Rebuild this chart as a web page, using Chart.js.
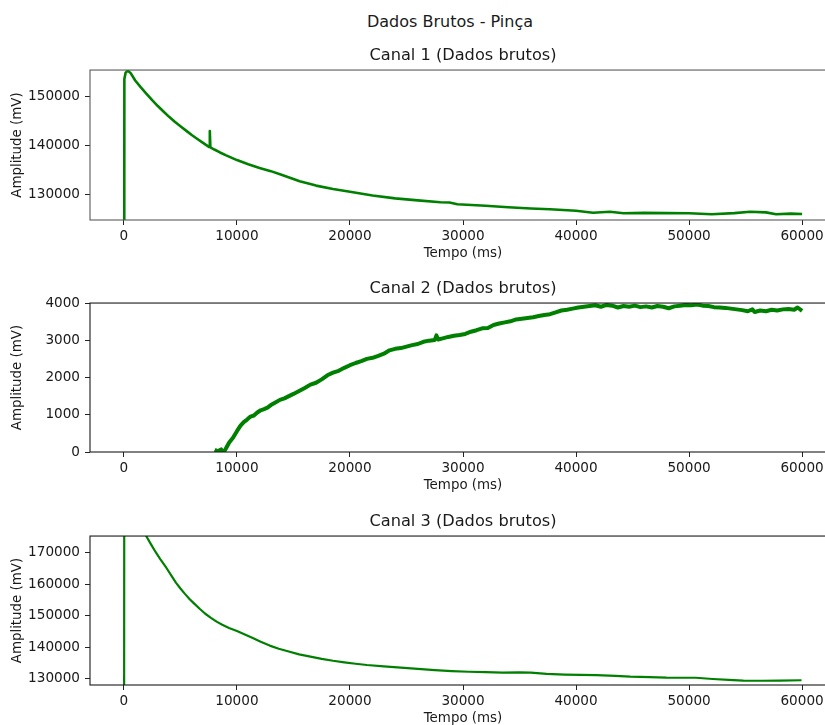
<!DOCTYPE html>
<html>
<head>
<meta charset="utf-8">
<script src="https://cdn.jsdelivr.net/npm/chart.js@4.4.1/dist/chart.umd.min.js"></script>
<style>
  html, body { margin: 0; padding: 0; background: #fff; overflow: hidden; }
  #fig { position: relative; width: 825px; height: 725px; overflow: hidden; background: #fff; }
  #suptitle { position: absolute; left: 0; top: 12px; width: 900px; text-align: center;
              font: 16px "DejaVu Sans"; line-height: 20px; color: #1a1a1a; }
  .panel { position: absolute; left: 0; width: 836px; }
</style>
</head>
<body>
<div id="fig">
  <div id="suptitle">Dados Brutos - Pinça</div>
  <div class="panel" style="top:30px;height:235px"><canvas id="c1"></canvas></div>
  <div class="panel" style="top:263px;height:234px"><canvas id="c2"></canvas></div>
  <div class="panel" style="top:496px;height:234px"><canvas id="c3"></canvas></div>
</div>
<script>
// Shared time axis ticks (ms)
const xTicks = [0, 10000, 20000, 30000, 40000, 50000, 60000];

// Canal 1
const tempo1 = [0, 40, 150, 350, 600, 1000, 1500, 2000, 2500, 3000, 3500, 4000, 4500, 5000,
  5500, 6000, 6500, 7000, 7550, 7600, 7650, 8000, 8500, 9000, 10000, 11000, 12000, 13000,
  14000, 15550, 17000, 18500, 20000, 22000, 24000, 26000, 28000, 28800, 29500, 32000,
  34000, 36000, 37700, 40000, 41500, 43000, 44200, 46000, 48000, 50000, 52000, 54000,
  55400, 56800, 57700, 59000, 60000];
const canal1 = [0, 153600, 154900, 155300, 154800, 153300, 151900, 150600, 149300, 148100,
  147000, 145900, 144900, 144000, 143100, 142200, 141400, 140600, 139750, 143000, 139700,
  139250, 138650, 138100, 137100, 136250, 135500, 134850, 134050, 132800, 131900, 131200,
  130660, 129900, 129300, 128900, 128500, 128450, 128100, 127800, 127500, 127250, 127080,
  126790, 126390, 126590, 126260, 126350, 126300, 126260, 126060, 126300, 126590, 126450,
  126060, 126200, 126130];
const yTicks1 = [130000, 140000, 150000];

// Canal 2
const tempo2 = [8030, 8300, 8600, 8800, 9000, 9300, 9650, 10000, 10300, 10600, 10900, 11200,
  11500, 11800, 12100, 12400, 12700, 13000, 13400, 13800, 14200, 14600, 15000, 15500, 16000,
  16500, 17000, 17500, 18000, 18500, 19000, 19500, 20000, 20500, 21000, 21500, 22000, 22500,
  23000, 23500, 24000, 24500, 25000, 25500, 26000, 26500, 27000, 27500, 27650, 27800, 28200,
  28700, 29200, 29700, 30200, 30700, 31200, 31700, 32200, 32700, 33200, 33700, 34200, 34700,
  35200, 35700, 36200, 36700, 37200, 37700, 38200, 38700, 39200, 39700, 40200, 40700, 41200,
  41700, 42200, 42700, 43200, 43700, 44200, 44700, 45200, 45700, 46200, 46700, 47200, 47700,
  48200, 48700, 49200, 49700, 50200, 50700, 51200, 51700, 52200, 52700, 53200, 53700, 54200,
  54700, 55200, 55600, 55800, 56300, 56800, 57300, 57800, 58300, 58800, 59300, 59600, 60000];
const canal2 = [60, 20, 70, -20, 80, 250, 380, 560, 700, 800, 870, 950,
  980, 1060, 1120, 1150, 1190, 1260, 1330, 1400, 1440, 1500, 1560, 1640, 1720,
  1810, 1860, 1950, 2060, 2130, 2180, 2260, 2330, 2390, 2440, 2500, 2530, 2580,
  2640, 2730, 2770, 2790, 2830, 2870, 2900, 2960, 2990, 3010, 3130, 3020, 3050,
  3090, 3120, 3140, 3170, 3230, 3270, 3320, 3330, 3410, 3450, 3480, 3510, 3560,
  3580, 3600, 3620, 3650, 3680, 3700, 3750, 3800, 3820, 3850, 3880, 3900, 3920,
  3940, 3900, 3950, 3930, 3880, 3920, 3900, 3930, 3890, 3910, 3880, 3920, 3900,
  3860, 3910, 3930, 3950, 3940, 3960, 3930, 3920, 3890, 3880, 3870, 3850, 3830,
  3810, 3780, 3830, 3760, 3800, 3780, 3820, 3800, 3830, 3840, 3820, 3880, 3790];
const yTicks2 = [0, 1000, 2000, 3000, 4000];

// Canal 3
const tempo3 = [0, 30, 600, 1200, 1980, 2400, 2800, 3200, 3750, 4200, 4600, 5000, 5400,
  5800, 6200, 6700, 7200, 7700, 8200, 8700, 9300, 10000, 10700, 11400, 12100, 12900, 13700,
  14500, 15500, 16500, 17500, 18500, 19500, 20500, 21500, 23000, 24500, 26000, 27500, 29000,
  30500, 32000, 33500, 35000, 36000, 37400, 39000, 41800, 43500, 44800, 46500, 48000, 50600,
  52100, 53500, 54800, 56500, 58000, 59950];
const canal3 = [0, 190000, 184500, 180500, 175200, 172600, 170200, 168000, 165200, 162700,
  160500, 158600, 156900, 155300, 153900, 152200, 150600, 149300, 148100, 147100, 146100,
  145100, 144000, 142900, 141700, 140500, 139500, 138700, 137700, 137000, 136300, 135700,
  135200, 134750, 134350, 133900, 133500, 133100, 132700, 132400, 132200, 132100, 131900,
  132000, 131900, 131500, 131300, 131150, 130900, 130650, 130500, 130350, 130300, 129900,
  129600, 129400, 129350, 129400, 129500];
const yTicks3 = [130000, 140000, 150000, 160000, 170000];

const FONT = '"DejaVu Sans", sans-serif';
const TXT = '#1a1a1a';

// Outline of the plotting area (all four spines)
const framePlugin = {
  id: 'frame',
  afterDatasetsDraw(chart, args, opts) {
    const { ctx, chartArea: a } = chart;
    ctx.save();
    ctx.strokeStyle = opts.color || '#1a1a1a';
    ctx.lineWidth = opts.width || 1;
    ctx.strokeRect(a.left, a.top, a.right - a.left, a.bottom - a.top);
    ctx.restore();
  }
};

function pairs(xs, ys) { return xs.map((x, i) => ({ x: x, y: ys[i] })); }

function makePanel(id, title, xs, ys, yMin, yMax, yTicks, lineWidth, frameColor) {
  return new Chart(document.getElementById(id), {
    type: 'line',
    data: {
      datasets: [{
        data: pairs(xs, ys),
        borderColor: '#008000',
        borderWidth: lineWidth,
        borderJoinStyle: 'round',
        pointRadius: 0,
        tension: 0,
        fill: false
      }]
    },
    options: {
      responsive: true,
      maintainAspectRatio: false,
      animation: false,
      events: [],
      layout: { padding: 0 },
      plugins: {
        legend: { display: false },
        tooltip: { enabled: false },
        title: {
          display: true,
          text: title,
          fullSize: false,
          color: TXT,
          font: { family: FONT, size: 16.2, weight: 'normal', lineHeight: 1.2 },
          padding: { top: 16.3, bottom: 4.3 }
        },
        frame: { color: frameColor, width: 1.1 }
      },
      scales: {
        x: {
          type: 'linear',
          min: -3000,
          max: 63000,
          afterBuildTicks: s => { s.ticks = xTicks.map(v => ({ value: v })); },
          afterFit: s => { s.height = 45; },
          grid: { drawOnChartArea: false, drawTicks: true, tickLength: 5, color: '#222', lineWidth: 1 },
          border: { display: false },
          ticks: { color: TXT, padding: 3, maxRotation: 0, font: { family: FONT, size: 13.6 },
                   callback: v => String(v) },
          title: { display: true, text: 'Tempo (ms)', color: TXT,
                   font: { family: FONT, size: 13.4, lineHeight: 1.2 }, padding: { top: 0, bottom: 3.8 } }
        },
        y: {
          type: 'linear',
          min: yMin,
          max: yMax,
          afterBuildTicks: s => { s.ticks = yTicks.map(v => ({ value: v })); },
          afterFit: s => { s.width = 90; },
          grid: { drawOnChartArea: false, drawTicks: true, tickLength: 5, color: '#222', lineWidth: 1 },
          border: { display: false },
          ticks: { color: TXT, padding: 5, font: { family: FONT, size: 13.6 },
                   callback: v => String(v) },
          title: { display: true, text: 'Amplitude (mV)', color: TXT,
                   font: { family: FONT, size: 13.4, lineHeight: 1.2 }, padding: { top: 9.8, bottom: 0 } }
        }
      }
    },
    plugins: [framePlugin]
  });
}

makePanel('c1', 'Canal 1 (Dados brutos)', tempo1, canal1, 124900, 155430, yTicks1, 2.6, '#5a5a5a');
makePanel('c2', 'Canal 2 (Dados brutos)', tempo2, canal2, 0, 4000, yTicks2, 4, '#1a1a1a');
makePanel('c3', 'Canal 3 (Dados brutos)', tempo3, canal3, 128000, 175250, yTicks3, 2.2, '#1a1a1a');
</script>
</body>
</html>
